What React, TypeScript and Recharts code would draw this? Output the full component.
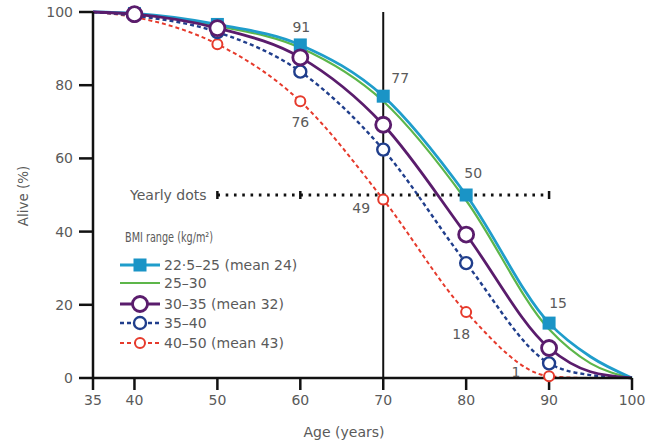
import React from 'react';
import { LineChart, Line, XAxis, YAxis, ReferenceLine } from 'recharts';

const ages = [35, 40, 50, 60, 70, 80, 90, 95, 100];
const bmi22 = [100, 99.6, 96.6, 91, 77, 50, 15, 5.8, 0];
const bmi25 = [100, 99.5, 96.2, 90.2, 75.6, 48.5, 13.3, 4, 0];
const bmi30 = [100, 99.4, 95.6, 87.6, 69.2, 39.2, 8.2, 1.7, 0];
const bmi35 = [100, 99, 94.5, 83.7, 62.4, 31.4, 4, 0.8, 0];
const bmi40 = [100, 98.6, 91.2, 75.6, 48.8, 18, 0.5, 0, 0];

const markerAges = [40, 50, 60, 70, 80, 90];
const xTicks = [35, 40, 50, 60, 70, 80, 90, 100];
const yTicks = [0, 20, 40, 60, 80, 100];
const yearlyTicks = [50, 60, 80, 90];

const labelledAges22 = [60, 70, 80, 90];
const labelledAges40 = [60, 70, 80, 90];

const legendTitle = 'BMI range (kg/m²)';
const xLabel = 'Age (years)';
const yLabel = 'Alive (%)';
const yearlyLabel = 'Yearly dots';

const data = ages.map((age, i) => ({
  age,
  bmi22: bmi22[i],
  bmi25: bmi25[i],
  bmi30: bmi30[i],
  bmi35: bmi35[i],
  bmi40: bmi40[i],
}));

type Series = {
  key: string;
  name: string;
  color: string;
  fill: string;
  width: number;
  dash?: string;
  marker: 'square' | 'circle' | 'none';
  size: number;
  markerStroke: number;
};

const series: Series[] = [
  { key: 'bmi22', name: '22·5–25 (mean 24)', color: '#1f9dcb', fill: '#1a94c6', width: 2.8, marker: 'square', size: 13, markerStroke: 0 },
  { key: 'bmi25', name: '25–30', color: '#5db64a', fill: 'none', width: 2.2, marker: 'none', size: 0, markerStroke: 0 },
  { key: 'bmi30', name: '30–35 (mean 32)', color: '#5a1c6c', fill: '#fff', width: 2.8, marker: 'circle', size: 7.5, markerStroke: 2.8 },
  { key: 'bmi35', name: '35–40', color: '#203e8c', fill: '#fff', width: 2.4, dash: '4 3', marker: 'circle', size: 6, markerStroke: 2.4 },
  { key: 'bmi40', name: '40–50 (mean 43)', color: '#e63a2c', fill: '#fff', width: 2, dash: '4 3', marker: 'circle', size: 5, markerStroke: 2 },
];

const drawOrder = ['bmi25', 'bmi22', 'bmi40', 'bmi35', 'bmi30'];

// label offsets (px) relative to the marker
const labelOffsets22: Record<number, [number, number]> = { 60: [1, -18], 70: [17, -18], 80: [7, -22], 90: [9, -20] };
const labelOffsets40: Record<number, [number, number]> = { 60: [0, 21], 70: [-22, 9], 80: [-5, 22], 90: [-33, -4] };

const FONT = '"DejaVu Sans", sans-serif';
const TEXT = '#5a5a5a';

function markerShape(s: Series, cx: number, cy: number, key?: string | number) {
  if (s.marker === 'square') {
    return <rect key={key} x={cx - s.size / 2} y={cy - s.size / 2} width={s.size} height={s.size} fill={s.fill} />;
  }
  if (s.marker === 'circle') {
    return <circle key={key} cx={cx} cy={cy} r={s.size} fill={s.fill} stroke={s.color} strokeWidth={s.markerStroke} />;
  }
  return <g key={key} />;
}

const makeDot = (s: Series) => (props: any) => {
  const { cx, cy, payload, index } = props;
  if (s.marker === 'none' || !markerAges.includes(payload.age)) return <g key={`d-${s.key}-${index}`} />;
  return markerShape(s, cx, cy, `d-${s.key}-${index}`);
};

const makeLabel = (labelled: number[], offsets: Record<number, [number, number]>) => (props: any) => {
  const { x, y, index, value } = props;
  const age = ages[index];
  if (!labelled.includes(age)) return <g key={`l-${index}`} />;
  const [dx, dy] = offsets[age];
  return (
    <text key={`l-${index}`} x={x + dx} y={y + dy} textAnchor="middle" dominantBaseline="central" fontSize={14} fontFamily={FONT} fill={TEXT}>
      {Math.round(value)}
    </text>
  );
};

function LegendBox() {
  const rows = [43, 61, 82, 101, 121];
  return (
    <svg width={220} height={135} style={{ position: 'absolute', left: 110, top: 222, overflow: 'visible' }}>
      <text x={15} y={15} dominantBaseline="central" fontSize={14} textLength={88} lengthAdjust="spacingAndGlyphs" fontFamily={FONT} fill={TEXT}>{legendTitle}</text>
      {series.map((s, i) => (
        <g key={s.key}>
          <line x1={10} x2={50} y1={rows[i]} y2={rows[i]} stroke={s.color} strokeWidth={s.width} strokeDasharray={s.dash} />
          {markerShape(s, 30, rows[i])}
          <text x={54} y={rows[i]} dominantBaseline="central" fontSize={14} fontFamily={FONT} fill={TEXT}>{s.name}</text>
        </g>
      ))}
    </svg>
  );
}

export default function App() {
  const ordered = drawOrder.map((k) => series.find((s) => s.key === k)!);
  return (
    <div style={{ position: 'absolute', left: 0, top: 0, width: 659, height: 441, background: '#fff' }}>
      <LineChart width={659} height={441} data={data} margin={{ top: 12, right: 27, bottom: 33, left: 33 }}>
        <XAxis
          dataKey="age"
          type="number"
          domain={[35, 100]}
          ticks={xTicks}
          interval={0}
          height={30}
          axisLine={{ stroke: '#111', strokeWidth: 2.5 }}
          tickLine={{ stroke: '#111', strokeWidth: 2.5 }}
          tickSize={12}
          tickMargin={5}
          tick={{ fontSize: 14, fontFamily: FONT, fill: TEXT }}
          label={{
            content: () => (
              <text x={344} y={432} textAnchor="middle" dominantBaseline="central" fontSize={14} fontFamily={FONT} fill={TEXT}>
                {xLabel}
              </text>
            ),
          }}
        />
        <YAxis
          type="number"
          domain={[0, 100]}
          ticks={yTicks}
          interval={0}
          width={60}
          axisLine={{ stroke: '#111', strokeWidth: 2.5 }}
          tickLine={{ stroke: '#111', strokeWidth: 2.5 }}
          tickSize={14}
          tickMargin={6}
          tick={{ fontSize: 14, fontFamily: FONT, fill: TEXT }}
          label={{
            content: () => (
              <text x={23} y={196} transform="rotate(-90 23 196)" textAnchor="middle" dominantBaseline="central" fontSize={13.5} fontFamily={FONT} fill={TEXT}>
                {yLabel}
              </text>
            ),
          }}
        />
        <ReferenceLine x={70} stroke="#111" strokeWidth={2} ifOverflow="visible" />
        <ReferenceLine
          segment={[{ x: 50, y: 50 }, { x: 90, y: 50 }]}
          stroke="#111"
          strokeWidth={3}
          strokeDasharray="2.6 5.69"
        />
        {yearlyTicks.map((t) => (
          <ReferenceLine key={t} segment={[{ x: t, y: 48.9 }, { x: t, y: 51.1 }]} stroke="#111" strokeWidth={2.5} />
        ))}
        <ReferenceLine
          y={50}
          stroke="none"
          label={{ value: yearlyLabel, position: 'insideLeft', dx: 32, fontSize: 14, fontFamily: FONT, fill: TEXT }}
        />
        {ordered.map((s) => (
          <Line
            key={s.key}
            dataKey={s.key}
            name={s.name}
            type="monotone"
            stroke={s.color}
            strokeWidth={s.width}
            strokeDasharray={s.dash}
            dot={makeDot(s)}
            activeDot={false}
            isAnimationActive={false}
            label={
              s.key === 'bmi22'
                ? makeLabel(labelledAges22, labelOffsets22)
                : s.key === 'bmi40'
                ? makeLabel(labelledAges40, labelOffsets40)
                : undefined
            }
          />
        ))}
      </LineChart>
      <LegendBox />
    </div>
  );
}
